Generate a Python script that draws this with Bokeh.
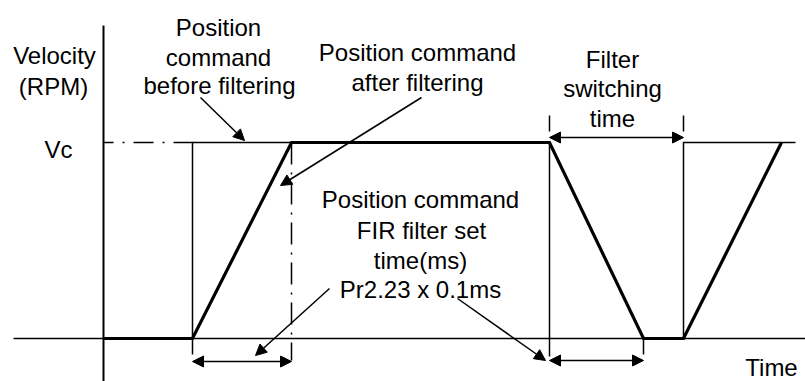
from bokeh.plotting import figure
from bokeh.models import Range1d, Arrow, NormalHead, Label
from bokeh.embed import file_html
from bokeh.resources import INLINE

# ---------------- data (time in arbitrary units, velocity normalised: Vc = 1) ----------------
VC = 1.0
t_cmd_on = 89        # command (before filtering) steps up
t_fir_end = 188      # filtered command reaches Vc
t_cmd_off = 446      # command steps down
t_fir_off_end = 540  # filtered command reaches 0
t_cmd_on2 = 580      # command steps up again (after filter switching time)
t_fir_end2 = 678     # filtered command reaches Vc again
t_view_end = 692

before_t = [t_cmd_on, t_cmd_on, t_cmd_off, t_cmd_off]
before_v = [0, VC, VC, 0]
before2_t = [t_cmd_on2, t_cmd_on2, t_view_end]
before2_v = [0, VC, VC]
after_t = [0, t_cmd_on, t_fir_end, t_cmd_off, t_fir_off_end, t_cmd_on2, t_fir_end2]
after_v = [0, 0, VC, VC, 0, 0, VC]

# ---------------- layout helpers (pixels -> data) ----------------
W, H = 805, 381
X_AXIS_PX, ZERO_PX, PX_PER_V = 103, 338, 196.0


def tx(px):
    return px - X_AXIS_PX


def vy(py):
    return (ZERO_PX - py) / PX_PER_V


p = figure(width=W, height=H, output_backend="svg", toolbar_location=None,
           x_range=Range1d(tx(0), tx(W)), y_range=Range1d(vy(H), vy(0)),
           min_border=0, outline_line_color=None)
p.axis.visible = False
p.grid.visible = False
p.background_fill_color = "white"
p.border_fill_color = "white"

THIN, THICK = 1.5, 3.2

# axes
p.line([tx(13), tx(805)], [0, 0], line_color="black", line_width=THIN)
p.line([0, 0], [vy(25), vy(385)], line_color="black", line_width=2)

# Vc reference (dash-dot)
p.line([0, t_cmd_on], [VC, VC], line_color="black", line_width=THIN,
       line_dash="20 9 2 9", line_dash_offset=10)
# FIR set time reference (dash-dot)
p.line([t_fir_end, t_fir_end], [VC, vy(360)], line_color="black", line_width=THIN,
       line_dash="22 8 2 8")

# command before filtering (thin)
p.line(before_t, before_v, line_color="black", line_width=THIN, line_join="miter")
p.line(before2_t, before2_v, line_color="black", line_width=THIN, line_join="miter")
# command after filtering (thick)
p.line(after_t, after_v, line_color="black", line_width=THICK, line_join="miter")

# extension ticks
p.segment(x0=[t_cmd_on, t_cmd_off, t_fir_off_end], y0=[0, 0, 0],
          x1=[t_cmd_on, t_cmd_off, t_fir_off_end], y1=[vy(354), vy(356), vy(354)],
          line_color="black", line_width=THIN)
p.segment(x0=[t_cmd_off, t_cmd_on2], y0=[vy(115), vy(115)],
          x1=[t_cmd_off, t_cmd_on2], y1=[vy(131), vy(131)],
          line_color="black", line_width=THIN)


def head():
    return NormalHead(size=11, fill_color="black", line_color="black", line_width=1)


# double arrows (dimension lines)
for (a, b, y) in [(t_cmd_on, t_fir_end, vy(361)),
                  (t_cmd_off, t_fir_off_end, vy(360)),
                  (t_cmd_off, t_cmd_on2, vy(137))]:
    p.add_layout(Arrow(start=head(), end=head(), x_start=a, y_start=y, x_end=b, y_end=y,
                       line_color="black", line_width=THIN))

# pointer arrows
pointers = [((200, 97), (244, 140)),
            ((421, 97), (280, 185)),
            ((329, 288), (255, 355)),
            ((457, 298), (545, 360))]
for (s, e) in pointers:
    p.add_layout(Arrow(end=head(), x_start=tx(s[0]), y_start=vy(s[1]),
                       x_end=tx(e[0]), y_end=vy(e[1]),
                       line_color="black", line_width=THIN))

labels = [
    ("Velocity", 54, 55),
    ("(RPM)", 53, 86),
    ("Vc", 58, 149),
    ("Position", 218, 27),
    ("command", 218, 57),
    ("before filtering", 219, 85),
    ("Position command", 417, 52),
    ("after filtering", 417, 82),
    ("Filter", 612, 59),
    ("switching", 612, 88),
    ("time", 612, 118),
    ("Position command", 420, 199),
    ("FIR filter set", 421, 230),
    ("time(ms)", 420, 260),
    ("Pr2.23 x 0.1ms", 420, 289),
    ("Time", 771, 367),
]
for (txt, x, y) in labels:
    p.add_layout(Label(x=tx(x), y=vy(y), text=txt, text_align="center",
                       text_baseline="alphabetic", text_font="Liberation Sans",
                       text_font_size="24px", text_color="black"))

open("out.html", "w").write(file_html(p, INLINE))
